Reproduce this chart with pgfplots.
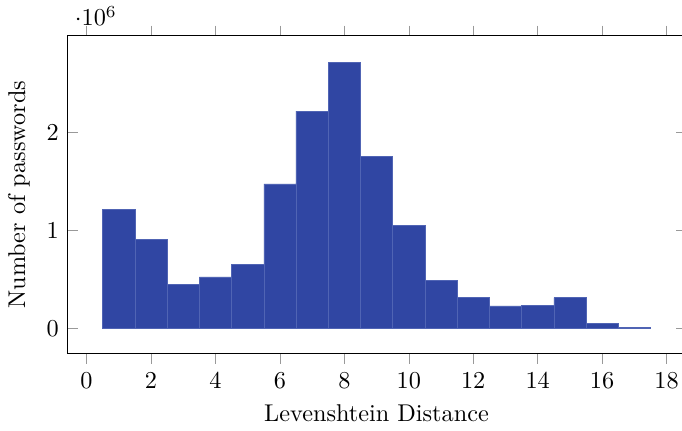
\documentclass[border=0pt]{standalone}
\usepackage{pgfplots}
\pgfplotsset{compat=1.18}
\definecolor{barfill}{RGB}{48,70,163}
\definecolor{baredge}{RGB}{80,100,180}
\begin{document}
\begin{tikzpicture}
\begin{axis}[
  name=ax,
  scale only axis,
  width=255pt, height=130.9pt,
  xmin=-0.6, xmax=18.6,
  ymin=-0.253e6, ymax=2.987e6,
  xtick={0,2,...,18},
  ytick={0,1e6,2e6},
  xtick align=outside,
  ytick align=inside,
  major tick style={color=black!40},
  xlabel={Levenshtein Distance},
  ylabel={Number of passwords},
]
\addplot[ybar interval, fill=barfill, draw=baredge, line width=0.2pt] coordinates {
(0.5,1.218e6) (1.5,0.915e6) (2.5,0.456e6) (3.5,0.528e6) (4.5,0.660e6)
(5.5,1.477e6) (6.5,2.221e6) (7.5,2.718e6) (8.5,1.755e6) (9.5,1.058e6)
(10.5,0.490e6) (11.5,0.316e6) (12.5,0.232e6) (13.5,0.235e6) (14.5,0.316e6)
(15.5,0.055e6) (16.5,0.01e6) (17.5,0.01e6)
};
\end{axis}
\pgfresetboundingbox
\path[use as bounding box] ([xshift=-27.7pt,yshift=-31.7pt]ax.south west) rectangle ([xshift=-1.6pt,yshift=14.8pt]ax.north east);
\fill[white] ([xshift=-0.3pt,yshift=-1pt]ax.south east) rectangle ([xshift=3pt,yshift=1pt]ax.north east);
\end{tikzpicture}
\end{document}
